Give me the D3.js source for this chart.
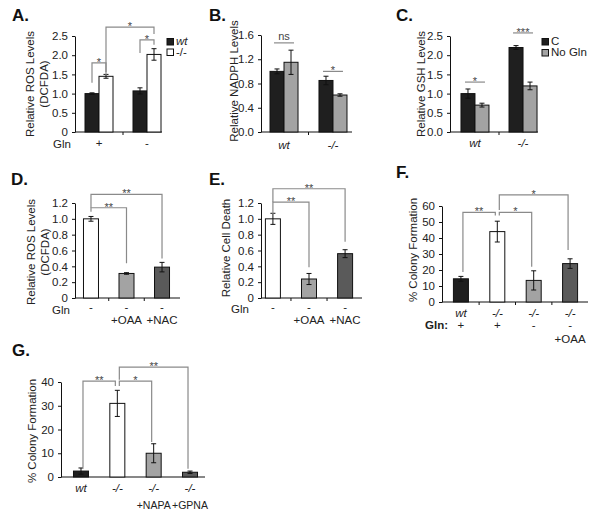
<!DOCTYPE html>
<html>
<head>
<meta charset="utf-8">
<script src="https://cdn.jsdelivr.net/npm/d3@7"></script>
<style>
  body { margin: 0; background: #fff; }
</style>
</head>
<body>
<div id="chart"></div>
<script>
// ---- data ----
// A: relative ROS levels (DCFDA), +/- Gln
var aGroups = ["+", "-"];
var aWt = [1.00, 1.07], aWtErr = [0.02, 0.08];
var aKo = [1.45, 2.02], aKoErr = [0.05, 0.15];
var aTicks = [0, 0.5, 1.0, 1.5, 2.0, 2.5];
// brackets: [from bar, to bar, top, left end, right end, label]
var aSig = [[0, 1, 1.80, 1.28, 1.56, "*"], [2, 3, 2.40, 2.06, 2.27, "*"], [1, 3, 2.73, 1.48, 2.55, "*"]];

// B: relative NADPH levels
var bGroups = ["wt", "-/-"];
var bCtrl = [1.00, 0.85], bCtrlErr = [0.04, 0.07];
var bNoGln = [1.15, 0.61], bNoGlnErr = [0.20, 0.02];
var bTicks = [0, 0.4, 0.8, 1.2, 1.6];
var bSig = [[0, 1, 1.47, "ns"], [2, 3, 1.00, "*"]];

// C: relative GSH levels
var cGroups = ["wt", "-/-"];
var cCtrl = [1.00, 2.20], cCtrlErr = [0.12, 0.05];
var cNoGln = [0.70, 1.20], cNoGlnErr = [0.05, 0.10];
var cTicks = [0, 0.5, 1.0, 1.5, 2.0, 2.5];
var cSig = [[0, 1, 1.30, "*"], [2, 3, 2.58, "***"]];
var cLegend = ["C", "No Gln"];

// D: relative ROS levels, Gln-free +OAA / +NAC
var dGln = ["-", "-", "-"];
var dTreat = ["", "+OAA", "+NAC"];
var dVals = [1.00, 0.31, 0.39], dErr = [0.03, 0.01, 0.06];
var dTicks = [0, 0.2, 0.4, 0.6, 0.8, 1.0, 1.2];
var dSig = [[0, 1, 1.14, 1.09, 0.44, "**"], [0, 2, 1.31, 1.14, 0.50, "**"]];

// E: relative cell death
var eGln = ["-", "-", "-"];
var eTreat = ["", "+OAA", "+NAC"];
var eVals = [1.00, 0.24, 0.56], eErr = [0.07, 0.07, 0.05];
var eTicks = [0, 0.2, 0.4, 0.6, 0.8, 1.0, 1.2];
var eSig = [[0, 1, 1.21, 1.06, 0.39, "**"], [0, 2, 1.38, 1.21, 0.71, "**"]];

// F: % colony formation
var fGeno = ["wt", "-/-", "-/-", "-/-"];
var fGln = ["+", "+", "-", "-"];
var fTreat = ["", "", "", "+OAA"];
var fVals = [14.5, 44, 13.5, 24], fErr = [1.5, 6.5, 6, 3];
var fTicks = [0, 10, 20, 30, 40, 50, 60];
var fSig = [[0, 1, 56, 18.75, 54, "**"], [1, 2, 56, 54, 22, "*"], [1, 3, 67, 57.5, 32.5, "*"]];

// G: % colony formation, NAPA / GPNA
var gGeno = ["wt", "-/-", "-/-", "-/-"];
var gTreat = ["", "", "+NAPA", "+GPNA"];
var gVals = [2.5, 31, 10, 2], gErr = [1.3, 5.5, 4, 0.5];
var gTicks = [0, 10, 20, 30, 40];
var gSig = [[0, 1, 40.4, 4.2, 38.3, "**"], [1, 2, 40.4, 38.3, 14.7, "*"], [1, 3, 46.3, 41, 3.5, "**"]];

// ---- styles ----
var FONT = "'Liberation Sans', Arial, Helvetica, sans-serif";
var BLACK = "#1f1f1f", GRAY = "#a3a3a3", DARK = "#5a5a5a", WHITE = "#ffffff";
var LINE = "#111", BRK = "#8a8a8a", TXT = "#222";

var svg = d3.select("#chart").append("svg")
    .attr("width", 600)
    .attr("height", 515)
    .attr("font-family", FONT);

function txt(x, y, s, o) {
  o = o || {};
  var t = svg.append("text")
      .attr("x", x).attr("y", y)
      .attr("font-size", o.size || 11.5)
      .attr("fill", o.fill || TXT)
      .attr("text-anchor", o.anchor || "middle")
      .text(s);
  if (o.bold) t.attr("font-weight", "bold");
  if (o.italic) t.attr("font-style", "italic");
  return t;
}

function yLabel(x, y, lines) {
  lines.forEach(function(s, i) {
    svg.append("text")
        .attr("transform", "translate(" + (x + i * 14) + "," + y + ") rotate(-90)")
        .attr("text-anchor", "middle")
        .attr("font-size", 11.5)
        .attr("fill", TXT)
        .text(s);
  });
}

function yAxis(y, ax, ticks, fmt) {
  svg.append("g")
      .attr("transform", "translate(" + ax + ",0)")
      .call(d3.axisLeft(y).tickValues(ticks).tickFormat(fmt).tickSize(3).tickSizeOuter(0).tickPadding(4))
      .call(function(g) {
        g.attr("font-family", FONT).attr("font-size", 11.5);
        g.selectAll("text").attr("fill", TXT);
        g.selectAll(".domain, line").attr("stroke", LINE);
      });
}

function xBase(ax, y0, xEnd, mids) {
  svg.append("path").attr("d", "M" + ax + "," + y0 + "H" + xEnd)
      .attr("stroke", LINE).attr("fill", "none");
  (mids || []).forEach(function(m) {
    svg.append("path").attr("d", "M" + m + "," + y0 + "V" + (y0 + 3)).attr("stroke", LINE);
  });
}

function drawBars(xs, vals, errs, fills, y, w) {
  var d = vals.map(function(v, i) { return {x: xs[i], v: v, e: errs[i], f: fills[i]}; });
  var g = svg.append("g");
  g.selectAll("rect").data(d).join("rect")
      .attr("x", function(d) { return d.x - w / 2; })
      .attr("y", function(d) { return y(d.v); })
      .attr("width", w)
      .attr("height", function(d) { return y(0) - y(d.v); })
      .attr("fill", function(d) { return d.f; })
      .attr("stroke", LINE);
  g.selectAll("path").data(d).join("path")
      .attr("d", function(d) {
        var t = y(d.v + d.e), b = y(d.v - d.e);
        return "M" + d.x + "," + t + "V" + b +
               "M" + (d.x - 2.5) + "," + t + "H" + (d.x + 2.5) +
               "M" + (d.x - 2.5) + "," + b + "H" + (d.x + 2.5);
      })
      .attr("stroke", LINE).attr("fill", "none");
}

// bracket with two legs
function drawBrackets(list, xs, y, off) {
  list.forEach(function(b) {
    var x1 = xs[b[0]] + off, x2 = xs[b[1]] - off;
    svg.append("path")
        .attr("d", "M" + x1 + "," + y(b[3]) + "V" + y(b[2]) + "H" + x2 + "V" + y(b[4]))
        .attr("stroke", BRK).attr("stroke-width", 1.2).attr("fill", "none");
    txt((x1 + x2) / 2, y(b[2]) + 3, b[5], {size: 11, fill: "#444"});
  });
}

// flat line over a pair
function drawFlat(list, xs, y) {
  list.forEach(function(b) {
    var x1 = xs[b[0]] - 3, x2 = xs[b[1]] + 3, ly = y(b[2]);
    svg.append("path").attr("d", "M" + x1 + "," + ly + "H" + x2)
        .attr("stroke", BRK).attr("stroke-width", 1.2);
    if (b[3] == "ns") txt((x1 + x2) / 2, ly - 3, b[3], {size: 11, fill: "#444"});
    else txt((x1 + x2) / 2, ly + 3, b[3], {size: 11, fill: "#444"});
  });
}

function pairs(x, groups, w) {
  var xs = [];
  groups.forEach(function(g) { xs.push(x(g) - w / 2, x(g) + w / 2); });
  return xs;
}
function interleave(a, b) {
  var r = [];
  a.forEach(function(v, i) { r.push(v, b[i]); });
  return r;
}
function mids(xs) {
  var r = [];
  for (var i = 1; i < xs.length; i++) r.push((xs[i - 1] + xs[i]) / 2);
  return r;
}

var fmt1 = function(d) { return d === 0 ? "0" : d3.format(".1f")(d); };
var fmtF = d3.format(".1f");
var fmtI = d3.format("d");
var TITLE = {anchor: "start", size: 17, bold: true, fill: "#111"};

// ================= A =================
var yA = d3.scaleLinear().domain([0, 2.5]).range([132, 36]);
var xA = d3.scalePoint().domain(aGroups).range([75, 171]).padding(0.5);
var aXs = pairs(xA, aGroups, 14);
yAxis(yA, 75, aTicks, fmt1);
xBase(75, 132, 162, mids(aGroups.map(xA)));
drawBars(aXs, interleave(aWt, aKo), interleave(aWtErr, aKoErr), [BLACK, WHITE, BLACK, WHITE], yA, 14);
drawBrackets(aSig, aXs, yA, 0);
txt(62, 148, "Gln");
aGroups.forEach(function(g) { txt(xA(g), 147, g); });
yLabel(34, 84, ["Relative ROS Levels", "(DCFDA)"]);
svg.append("rect").attr("x", 167).attr("y", 38.5).attr("width", 6.5).attr("height", 6.5).attr("fill", BLACK).attr("stroke", LINE);
svg.append("rect").attr("x", 167).attr("y", 49).attr("width", 6.5).attr("height", 6.5).attr("fill", WHITE).attr("stroke", LINE);
txt(176, 45, "wt", {anchor: "start", italic: true});
txt(176, 56, "-/-", {anchor: "start"});
txt(12, 21, "A.", TITLE);

// ================= B =================
var yB = d3.scaleLinear().domain([0, 1.6]).range([132, 35]);
var xB = d3.scalePoint().domain(bGroups).range([261, 356]).padding(0.47);
var bXs = pairs(xB, bGroups, 14);
yAxis(yB, 261, bTicks, fmtF);
xBase(261, 132, 352, mids(bGroups.map(xB)));
drawBars(bXs, interleave(bCtrl, bNoGln), interleave(bCtrlErr, bNoGlnErr), [BLACK, GRAY, BLACK, GRAY], yB, 14);
drawFlat(bSig, bXs, yB);
bGroups.forEach(function(g) { txt(xB(g), 149, g, {italic: true}); });
yLabel(238, 81, ["Relative NADPH Levels"]);
txt(209, 21, "B.", TITLE);

// ================= C =================
var yC = d3.scaleLinear().domain([0, 2.5]).range([132, 36]);
var xC = d3.scalePoint().domain(cGroups).range([450, 548]).padding(0.52);
var cXs = pairs(xC, cGroups, 14);
yAxis(yC, 450, cTicks, fmtF);
xBase(450, 132, 538, mids(cGroups.map(xC)));
drawBars(cXs, interleave(cCtrl, cNoGln), interleave(cCtrlErr, cNoGlnErr), [BLACK, GRAY, BLACK, GRAY], yC, 14);
drawFlat(cSig, cXs, yC);
cGroups.forEach(function(g) { txt(xC(g), 147, g, {italic: true}); });
yLabel(425, 84, ["Relative GSH Levels"]);
svg.append("rect").attr("x", 542).attr("y", 38.5).attr("width", 6.5).attr("height", 6.5).attr("fill", BLACK).attr("stroke", LINE);
svg.append("rect").attr("x", 542).attr("y", 49.5).attr("width", 6.5).attr("height", 6.5).attr("fill", GRAY).attr("stroke", LINE);
txt(551, 45, cLegend[0], {anchor: "start"});
txt(551, 56, cLegend[1], {anchor: "start"});
txt(396, 21, "C.", TITLE);

// ================= D =================
var yD = d3.scaleLinear().domain([0, 1.2]).range([298, 203]);
var xD = d3.scalePoint().domain(d3.range(dVals.length)).range([75, 178]).padding(0.45);
var dXs = dVals.map(function(v, i) { return xD(i); });
yAxis(yD, 75, dTicks, fmt1);
xBase(75, 298, 180, mids(dXs));
drawBars(dXs, dVals, dErr, [WHITE, GRAY, DARK], yD, 15);
drawBrackets(dSig, dXs, yD, 0);
txt(61, 314, "Gln");
dGln.forEach(function(s, i) { txt(dXs[i], 311, s); });
dTreat.forEach(function(s, i) { txt(dXs[i], 324, s); });
yLabel(35, 252, ["Relative ROS Levels", "(DCFDA)"]);
txt(11, 185, "D.", TITLE);

// ================= E =================
var yE = d3.scaleLinear().domain([0, 1.2]).range([298, 203]);
var xE = d3.scalePoint().domain(d3.range(eVals.length)).range([261, 357]).padding(0.33);
var eXs = eVals.map(function(v, i) { return xE(i); });
yAxis(yE, 261, eTicks, fmt1);
xBase(261, 298, 362, mids(eXs));
drawBars(eXs, eVals, eErr, [WHITE, GRAY, DARK], yE, 15);
drawBrackets(eSig, eXs, yE, 0);
txt(240, 313, "Gln");
eGln.forEach(function(s, i) { txt(eXs[i], 311, s); });
eTreat.forEach(function(s, i) { txt(eXs[i], 324, s); });
yLabel(230, 248, ["Relative Cell Death"]);
txt(209, 185, "E.", TITLE);

// ================= F =================
var yF = d3.scaleLinear().domain([0, 60]).range([302, 206]);
var xF = d3.scalePoint().domain(d3.range(fVals.length)).range([442, 589]).padding(0.52);
var fXs = fVals.map(function(v, i) { return xF(i); });
yAxis(yF, 442, fTicks, fmtI);
xBase(442, 302, 588, mids(fXs));
drawBars(fXs, fVals, fErr, [BLACK, WHITE, GRAY, DARK], yF, 15);
drawBrackets(fSig, fXs, yF, 2);
fGeno.forEach(function(s, i) { txt(fXs[i], 317, s, {italic: true}); });
txt(448, 329, "Gln:", {anchor: "end", bold: true});
fGln.forEach(function(s, i) { txt(fXs[i], 329, s); });
fTreat.forEach(function(s, i) { txt(fXs[i], 343, s); });
yLabel(417, 250, ["% Colony Formation"]);
txt(396, 178, "F.", TITLE);

// ================= G =================
var yG = d3.scaleLinear().domain([0, 40]).range([477, 382]);
var xG = d3.scalePoint().domain(d3.range(gVals.length)).range([61, 210]).padding(0.55);
var gXs = gVals.map(function(v, i) { return xG(i); });
yAxis(yG, 61, gTicks, fmtI);
xBase(61, 477, 205);
drawBars(gXs, gVals, gErr, [BLACK, WHITE, GRAY, DARK], yG, 15);
drawBrackets(gSig, gXs, yG, 2);
gGeno.forEach(function(s, i) { txt(gXs[i], 492, s, {italic: true}); });
gTreat.forEach(function(s, i) { txt(gXs[i], 509, s, {size: 10.5}); });
yLabel(36, 431, ["% Colony Formation"]);
txt(12, 356, "G.", TITLE);
</script>
</body>
</html>
